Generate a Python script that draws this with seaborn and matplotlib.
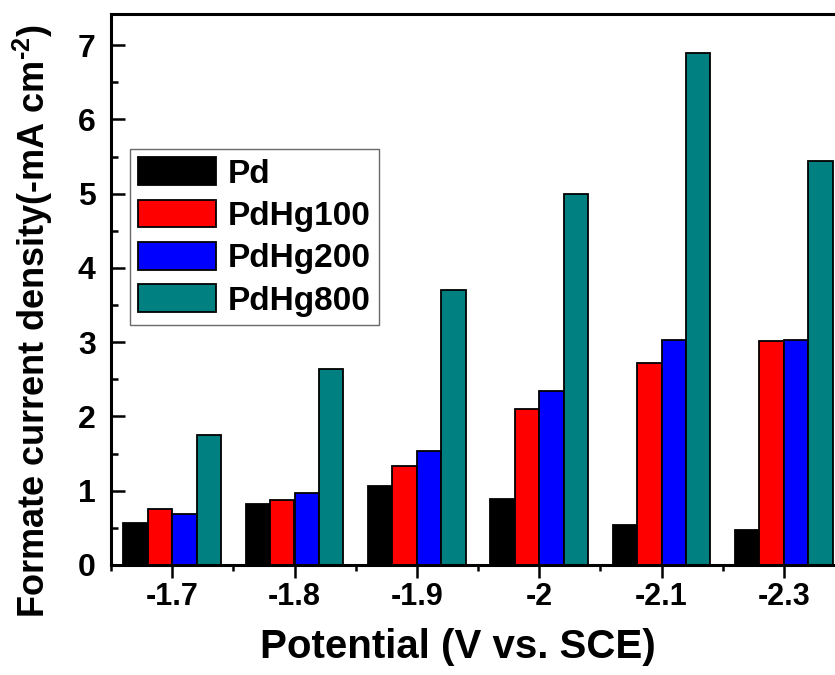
import matplotlib
matplotlib.use("Agg")
import matplotlib.pyplot as plt
import seaborn as sns
import pandas as pd
import numpy as np
from matplotlib.ticker import MultipleLocator, FixedLocator

potentials = ["-1.7", "-1.8", "-1.9", "-2", "-2.1", "-2.3"]
samples = ["Pd", "PdHg100", "PdHg200", "PdHg800"]
pd_vals = [0.57, 0.82, 1.06, 0.89, 0.54, 0.47]
pdhg100_vals = [0.75, 0.875, 1.33, 2.10, 2.72, 3.01]
pdhg200_vals = [0.69, 0.965, 1.54, 2.34, 3.03, 3.03]
pdhg800_vals = [1.75, 2.64, 3.71, 4.99, 6.89, 5.44]
colors = ["#000000", "#FF0000", "#0000FF", "#008080"]

rows = []
for s, vals in zip(samples, [pd_vals, pdhg100_vals, pdhg200_vals, pdhg800_vals]):
    for p, v in zip(potentials, vals):
        rows.append({"Potential": p, "Value": v, "Sample": s})
df = pd.DataFrame(rows)

sns.set_style("ticks")
plt.rcParams["font.family"] = ["Liberation Sans", "DejaVu Sans"]
plt.rcParams["font.weight"] = "bold"
plt.rcParams["text.color"] = "black"
plt.rcParams["axes.labelcolor"] = "black"
plt.rcParams["xtick.color"] = "black"
plt.rcParams["ytick.color"] = "black"
plt.rcParams["axes.edgecolor"] = "black"
plt.rcParams["mathtext.fontset"] = "custom"
plt.rcParams["mathtext.rm"] = "Liberation Sans:bold"
plt.rcParams["mathtext.bf"] = "Liberation Sans:bold"
plt.rcParams["mathtext.default"] = "rm"

fig = plt.figure(figsize=(8.35, 6.75), dpi=100)
ax = fig.add_axes([111/835, 1 - 565/675, (845 - 111)/835, (565 - 14)/675])

sns.barplot(data=df, x="Potential", y="Value", hue="Sample", order=potentials,
            hue_order=samples, palette=colors, saturation=1, width=0.8,
            edgecolor="black", linewidth=1.3, ax=ax)

ax.set_xlim(-0.5, 5.5)
ax.set_ylim(0, 7.42)

for sp in ax.spines.values():
    sp.set_linewidth(2.2)
    sp.set_visible(True)
    sp.set_color("black")

ax.yaxis.set_major_locator(MultipleLocator(1))
ax.yaxis.set_minor_locator(MultipleLocator(0.5))
ax.xaxis.set_minor_locator(FixedLocator(np.arange(-0.5, 6, 1)))
ax.tick_params(axis="y", which="major", direction="in", length=10, width=1.8,
               labelsize=23, pad=11)
ax.tick_params(axis="y", which="minor", direction="in", length=5, width=1.8)
ax.tick_params(axis="x", which="major", direction="out", length=9.5, width=1.8,
               labelsize=22, pad=3)
ax.tick_params(axis="x", which="minor", direction="out", length=4.5, width=1.8)
for lab in ax.get_xticklabels() + ax.get_yticklabels():
    lab.set_fontweight("bold")

ax.set_xlabel("Potential (V vs. SCE)", fontsize=29, fontweight="bold")
ax.xaxis.set_label_coords(0.473, (565 - 628) / 551)
ax.set_ylabel(r"Formate current density(-mA cm$^{\text{-2}}$)", fontsize=26,
              fontweight="bold")
ax.yaxis.set_label_coords((55 - 111) / 734, 0.5 - 31 / 551)

leg = ax.legend(loc="upper left", bbox_to_anchor=(0.026, 0.755), borderaxespad=0,
                fontsize=24, frameon=True, fancybox=False, handlelength=2.33,
                handleheight=0.9, handletextpad=0.36, labelspacing=0.3,
                borderpad=0.25, title=None)
leg.get_frame().set_edgecolor("#444444")
leg.get_frame().set_linewidth(1.0)
for t in leg.get_texts():
    t.set_fontweight("bold")
    t.set_color("black")

fig.savefig("out.png", dpi=100)
